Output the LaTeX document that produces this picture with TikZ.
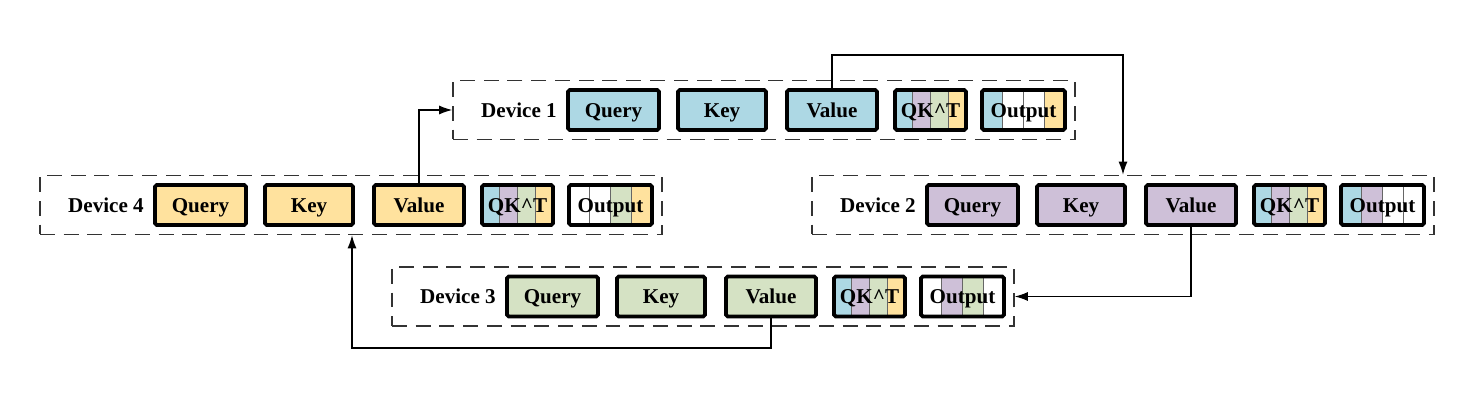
\documentclass[tikz,border=0pt]{standalone}
\usepackage{fontspec}
\setmainfont{Liberation Serif}
\usetikzlibrary{calc,arrows.meta}
\definecolor{qblue}{RGB}{173,216,228}
\definecolor{qpurp}{RGB}{206,192,216}
\definecolor{qgreen}{RGB}{213,226,196}
\definecolor{qyel}{RGB}{255,226,158}
\begin{document}
\begin{tikzpicture}[font=\fontsize{12}{14}\selectfont\bfseries,
  every node/.style={text height=1.8ex,text depth=0ex},
  mat/.style={draw=black,line width=2.2pt,rounded corners=1pt,minimum height=0.8cm,inner sep=0pt},
  frame/.style={draw=black!80,line width=1pt,dash pattern=on 8.5pt off 5pt,minimum width=12.44cm,minimum height=1.18cm,inner sep=0pt},
  stripes/.style n args={4}{path picture={
    \foreach \c [count=\i from 0] in {#1,#2,#3,#4}
      \fill[\c] ($(path picture bounding box.south west)!\i*0.25!(path picture bounding box.south east)$) rectangle ($(path picture bounding box.north west)!\i*0.25+0.25!(path picture bounding box.north east)$);
    \foreach \i in {1,2,3}
      \draw[black!60,line width=0.6pt] ($(path picture bounding box.south west)!\i*0.25!(path picture bounding box.south east)$) -- ($(path picture bounding box.north west)!\i*0.25!(path picture bounding box.north east)$);
  }},
  link/.style={draw,line width=0.6pt,-{Latex[length=2.6mm,width=1.8mm]}}]
\useasboundingbox (0,0) rectangle (29.4,8.14);
% one row per device
\foreach \n/\x/\y/\c/\oa/\ob/\oc/\od in {1/9.06/5.94/qblue/qblue/white/white/qyel,
    4/0.8/4.04/qyel/white/white/qgreen/qyel,
    2/16.24/4.04/qpurp/qblue/qpurp/white/white,
    3/7.84/2.21/qgreen/white/qpurp/qgreen/white}{
  \node[frame] (dev\n) at (\x+6.22,\y) {};
  \node (lab\n) at (\x+1.32,\y) {Device \n};
  \node[mat,fill=\c,minimum width=1.82cm] (q\n) at (\x+3.21,\y) {Query};
  \node[mat,fill=\c,minimum width=1.76cm] (k\n) at (\x+5.38,\y) {Key};
  \node[mat,fill=\c,minimum width=1.80cm] (v\n) at (\x+7.58,\y) {Value};
  \node[mat,stripes={qblue}{qpurp}{qgreen}{qyel},minimum width=1.42cm] (qk\n) at (\x+9.55,\y) {QK\textasciicircum T};
  \node[mat,stripes={\oa}{\ob}{\oc}{\od},minimum width=1.66cm] (o\n) at (\x+11.41,\y) {Output};
}
% value passing ring
\coordinate (top12) at (22.46,7.04);
\coordinate (bot34) at (7.04,1.18);
\draw[link] (v4.north) |- (dev1.west);
\draw[link] (v1.north) |- (top12) -- (top12 |- dev2.north);
\draw[link] (v2.south) |- (dev3.east);
\draw[link] (v3.south) |- (bot34) -- (bot34 |- dev4.south);
\end{tikzpicture}
\end{document}
